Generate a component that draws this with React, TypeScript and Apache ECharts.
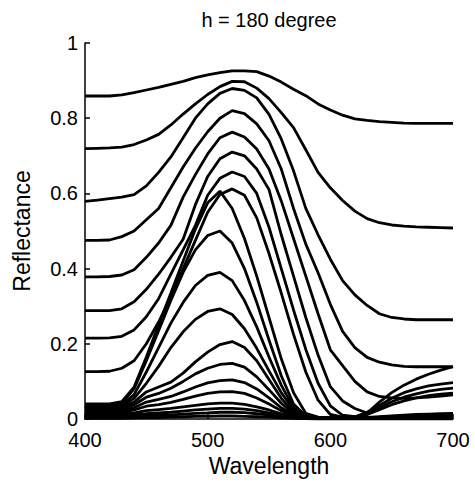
import { useEffect, useRef } from "react";
import * as echarts from "echarts";

const wavelengths = [400, 410, 420, 430, 440, 450, 460, 470, 480, 490, 500, 510, 520, 530, 540, 550, 560, 570, 580, 590, 600, 610, 620, 630, 640, 650, 660, 670, 680, 690, 700];
const xTicks = { min: 400, max: 700, step: 100 };
const yTicks = { min: 0, max: 1, step: 0.2 };
const titleText = "h = 180 degree";
const xName = "Wavelength";
const yName = "Reflectance";

const reflA = [0.859, 0.859, 0.859, 0.862, 0.868, 0.875, 0.882, 0.890, 0.898, 0.908, 0.915, 0.921, 0.926, 0.926, 0.924, 0.912, 0.896, 0.877, 0.860, 0.838, 0.822, 0.808, 0.798, 0.794, 0.791, 0.789, 0.787, 0.786, 0.786, 0.786, 0.786];
const reflB = [0.719, 0.720, 0.721, 0.723, 0.730, 0.742, 0.757, 0.782, 0.811, 0.838, 0.863, 0.884, 0.898, 0.897, 0.880, 0.852, 0.815, 0.775, 0.716, 0.656, 0.615, 0.581, 0.553, 0.533, 0.522, 0.516, 0.513, 0.511, 0.510, 0.509, 0.508];
const reflC = [0.579, 0.582, 0.586, 0.590, 0.597, 0.620, 0.656, 0.697, 0.748, 0.800, 0.838, 0.866, 0.879, 0.874, 0.854, 0.810, 0.745, 0.660, 0.560, 0.490, 0.425, 0.368, 0.330, 0.302, 0.280, 0.270, 0.266, 0.264, 0.264, 0.264, 0.264];
const reflD = [0.475, 0.475, 0.476, 0.485, 0.500, 0.530, 0.560, 0.615, 0.670, 0.720, 0.764, 0.800, 0.820, 0.812, 0.785, 0.740, 0.665, 0.560, 0.465, 0.389, 0.305, 0.233, 0.190, 0.164, 0.151, 0.144, 0.140, 0.139, 0.139, 0.139, 0.139];
const reflE = [0.378, 0.378, 0.379, 0.383, 0.397, 0.430, 0.468, 0.515, 0.590, 0.650, 0.705, 0.748, 0.763, 0.750, 0.718, 0.665, 0.580, 0.480, 0.380, 0.280, 0.184, 0.142, 0.100, 0.072, 0.060, 0.056, 0.055, 0.056, 0.058, 0.061, 0.064];
const reflF = [0.288, 0.288, 0.288, 0.293, 0.312, 0.345, 0.385, 0.430, 0.478, 0.570, 0.645, 0.692, 0.710, 0.700, 0.665, 0.610, 0.490, 0.380, 0.270, 0.170, 0.086, 0.048, 0.028, 0.016, 0.045, 0.070, 0.090, 0.106, 0.119, 0.130, 0.139];
const reflG = [0.215, 0.215, 0.216, 0.220, 0.237, 0.272, 0.320, 0.385, 0.450, 0.515, 0.595, 0.640, 0.657, 0.645, 0.600, 0.510, 0.400, 0.290, 0.185, 0.095, 0.035, 0.010, 0.006, 0.018, 0.036, 0.055, 0.070, 0.080, 0.088, 0.093, 0.097];
const reflH = [0.126, 0.126, 0.127, 0.135, 0.155, 0.200, 0.258, 0.325, 0.400, 0.475, 0.550, 0.597, 0.612, 0.595, 0.535, 0.440, 0.335, 0.225, 0.125, 0.050, 0.012, 0.005, 0.005, 0.012, 0.030, 0.046, 0.058, 0.067, 0.074, 0.079, 0.082];
const reflI = [0.040, 0.040, 0.040, 0.046, 0.085, 0.165, 0.250, 0.335, 0.420, 0.505, 0.575, 0.606, 0.560, 0.480, 0.380, 0.270, 0.160, 0.070, 0.015, 0.005, 0.003, 0.003, 0.005, 0.012, 0.025, 0.038, 0.048, 0.056, 0.062, 0.066, 0.069];
const reflJ = [0.036, 0.036, 0.036, 0.042, 0.080, 0.155, 0.235, 0.315, 0.390, 0.450, 0.488, 0.500, 0.468, 0.400, 0.310, 0.210, 0.115, 0.040, 0.008, 0.004, 0.003, 0.003, 0.003, 0.004, 0.006, 0.008, 0.010, 0.012, 0.013, 0.014, 0.015];
const reflK = [0.033, 0.033, 0.033, 0.038, 0.065, 0.125, 0.190, 0.255, 0.310, 0.355, 0.382, 0.390, 0.368, 0.315, 0.245, 0.165, 0.090, 0.030, 0.006, 0.003, 0.003, 0.003, 0.003, 0.004, 0.005, 0.007, 0.008, 0.009, 0.010, 0.011, 0.012];
const reflL = [0.030, 0.030, 0.030, 0.034, 0.055, 0.095, 0.140, 0.190, 0.232, 0.265, 0.286, 0.293, 0.278, 0.240, 0.188, 0.128, 0.070, 0.025, 0.005, 0.003, 0.002, 0.002, 0.002, 0.003, 0.004, 0.005, 0.006, 0.007, 0.008, 0.009, 0.010];
const reflM = [0.028, 0.028, 0.028, 0.030, 0.045, 0.072, 0.085, 0.098, 0.122, 0.152, 0.178, 0.198, 0.206, 0.190, 0.155, 0.105, 0.055, 0.018, 0.004, 0.002, 0.002, 0.002, 0.002, 0.002, 0.003, 0.004, 0.005, 0.005, 0.006, 0.006, 0.007];
const reflN = [0.025, 0.025, 0.025, 0.027, 0.038, 0.058, 0.068, 0.082, 0.100, 0.120, 0.135, 0.145, 0.148, 0.138, 0.112, 0.078, 0.042, 0.014, 0.004, 0.002, 0.002, 0.002, 0.002, 0.002, 0.003, 0.003, 0.004, 0.004, 0.005, 0.005, 0.005];
const reflO = [0.020, 0.020, 0.020, 0.022, 0.030, 0.045, 0.052, 0.060, 0.072, 0.085, 0.096, 0.102, 0.104, 0.097, 0.080, 0.056, 0.030, 0.010, 0.003, 0.002, 0.002, 0.002, 0.002, 0.002, 0.002, 0.003, 0.003, 0.004, 0.004, 0.004, 0.004];
const reflP = [0.016, 0.016, 0.016, 0.017, 0.024, 0.034, 0.038, 0.044, 0.052, 0.061, 0.068, 0.072, 0.073, 0.068, 0.056, 0.040, 0.022, 0.008, 0.003, 0.002, 0.002, 0.002, 0.002, 0.002, 0.002, 0.002, 0.003, 0.003, 0.003, 0.003, 0.003];
const reflQ = [0.012, 0.012, 0.012, 0.013, 0.016, 0.022, 0.025, 0.028, 0.032, 0.036, 0.040, 0.042, 0.042, 0.039, 0.032, 0.024, 0.014, 0.006, 0.003, 0.002, 0.002, 0.002, 0.002, 0.002, 0.002, 0.002, 0.002, 0.002, 0.002, 0.002, 0.002];
const reflR = [0.008, 0.008, 0.008, 0.009, 0.011, 0.014, 0.016, 0.018, 0.021, 0.024, 0.026, 0.028, 0.028, 0.026, 0.022, 0.016, 0.010, 0.005, 0.002, 0.001, 0.001, 0.001, 0.001, 0.001, 0.001, 0.001, 0.001, 0.001, 0.001, 0.001, 0.001];
const reflS = [0.005, 0.005, 0.005, 0.006, 0.007, 0.009, 0.010, 0.011, 0.013, 0.015, 0.016, 0.018, 0.018, 0.017, 0.014, 0.011, 0.007, 0.004, 0.002, 0.001, 0.001, 0.001, 0.001, 0.001, 0.001, 0.001, 0.001, 0.001, 0.001, 0.001, 0.001];
const reflT = [0.002, 0.002, 0.002, 0.002, 0.003, 0.004, 0.004, 0.005, 0.006, 0.007, 0.007, 0.008, 0.008, 0.007, 0.006, 0.005, 0.003, 0.002, 0.001, 0.000, 0.000, 0.000, 0.000, 0.000, 0.000, 0.000, 0.000, 0.000, 0.000, 0.000, 0.000];

const curves = [reflA, reflB, reflC, reflD, reflE, reflF, reflG, reflH, reflI, reflJ, reflK, reflL, reflM, reflN, reflO, reflP, reflQ, reflR, reflS, reflT];

const FONT = "'Liberation Sans', Arial, Helvetica, sans-serif";

export default function App() {
  const ref = useRef<HTMLDivElement>(null);
  useEffect(() => {
    if (!ref.current) return;
    const chart = echarts.init(ref.current, null, { renderer: "svg" });
    const gridLeft = 85;
    const gridRight = 22;
    const plotCenter = gridLeft + (475 - gridLeft - gridRight) / 2;
    chart.setOption({
      animation: false,
      backgroundColor: "#fff",
      textStyle: { fontFamily: FONT, color: "#000" },
      grid: { left: gridLeft, right: gridRight, top: 43, bottom: 67, containLabel: false, outerBoundsMode: "none" },
      graphic: [
        {
          type: "text",
          x: plotCenter,
          y: 20,
          style: { text: titleText, fontSize: 20, fontFamily: FONT, fill: "#000", textAlign: "center", textVerticalAlign: "middle" },
        },
      ],
      xAxis: {
        type: "value",
        min: xTicks.min,
        max: xTicks.max,
        interval: xTicks.step,
        name: xName,
        nameLocation: "middle",
        nameGap: 34,
        nameTextStyle: { fontSize: 23, color: "#000", fontFamily: FONT },
        axisLine: { show: true, lineStyle: { color: "#000", width: 1.5 } },
        axisTick: { show: true, inside: true, length: 5, lineStyle: { color: "#000", width: 1.5 } },
        axisLabel: { color: "#000", fontSize: 20, margin: 11, fontFamily: FONT },
        splitLine: { show: false },
      },
      yAxis: {
        type: "value",
        min: yTicks.min,
        max: yTicks.max,
        interval: yTicks.step,
        name: yName,
        nameLocation: "middle",
        nameGap: 52,
        nameTextStyle: { fontSize: 23, color: "#000", fontFamily: FONT },
        axisLine: { show: true, lineStyle: { color: "#000", width: 1.5 } },
        axisTick: { show: true, inside: true, length: 5, lineStyle: { color: "#000", width: 1.5 } },
        axisLabel: { color: "#000", fontSize: 20, margin: 7, fontFamily: FONT },
        splitLine: { show: false },
      },
      series: curves.map((c, i) => ({
        type: "line",
        name: "curve" + i,
        data: c.map((v, j) => [wavelengths[j], v]),
        showSymbol: false,
        symbol: "none",
        silent: true,
        clip: true,
        lineStyle: { color: "#000", width: 2.8 },
      })),
    });
    return () => chart.dispose();
  }, []);
  return <div ref={ref} style={{ position: "absolute", left: 0, top: 0, width: 475, height: 486 }} />;
}
